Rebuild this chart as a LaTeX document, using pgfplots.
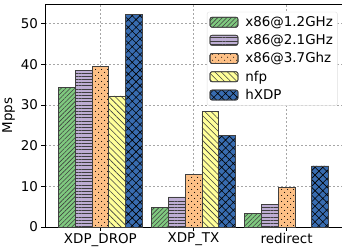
\documentclass[border=0pt]{standalone}
\usepackage{pgfplots}
\pgfplotsset{compat=1.18}
\usepackage{fontspec}
\setmainfont{DejaVu Sans}
\usetikzlibrary{patterns.meta}
\definecolor{cA}{HTML}{7FC97F}
\definecolor{cB}{HTML}{BEAED4}
\definecolor{cC}{HTML}{FDC086}
\definecolor{cD}{HTML}{FFFF99}
\definecolor{cE}{HTML}{386CB0}
\colorlet{edge}{black!75}
\tikzset{
  stA/.style={fill=cA, draw=edge, line width=0.7bp, postaction={pattern={Lines[angle=45,distance=3.2bp,line width=0.6bp]}, pattern color=edge}},
  stB/.style={fill=cB, draw=edge, line width=0.7bp, postaction={pattern={Lines[angle=0,distance=3.2bp,line width=0.6bp]}, pattern color=edge}},
  stC/.style={fill=cC, draw=edge, line width=0.7bp, postaction={pattern={Dots[distance=6bp,radius=0.6bp]}, pattern color=black}, postaction={pattern={Dots[distance=6bp,radius=0.6bp,xshift=3bp,yshift=3bp]}, pattern color=black}},
  stD/.style={fill=cD, draw=edge, line width=0.7bp, postaction={pattern={Lines[angle=-45,distance=4.4bp,line width=0.6bp]}, pattern color=edge}},
  stE/.style={fill=cE, draw=edge, line width=0.7bp, postaction={pattern={Hatch[angle=45,distance=5.5bp,line width=0.6bp]}, pattern color=black}},
}
\begin{document}
\begin{tikzpicture}
\begin{axis}[
  name=ax,
  scale only axis, width=297bp, height=223bp,
  ybar=0pt, bar width=0.18,
  xmin=-0.595, xmax=2.595, ymin=0, ymax=54.8,
  xtick={0,1,2}, xticklabels={XDP\_DROP, XDP\_TX, redirect},
  ytick={0,10,...,50},
  tick align=outside, tick pos=left,
  major tick length=3.5bp,
  major tick style={line width=0.8bp, black},
  grid=major, major grid style={dash pattern=on 2bp off 2bp, gray!70, line width=0.5bp},
  font=\fontsize{13.5}{16}\selectfont,
  ylabel={Mpps},
  ylabel style={yshift=-1bp},
  xticklabel style={yshift=1bp},
  /pgf/number format/assume math mode=true,
  axis line style={line width=0.8bp},
  legend style={at={(0.985,0.965)}, anchor=north east, rounded corners=2bp, draw=gray!25, fill=white, font=\fontsize{13.5}{16}\selectfont, row sep=2.6bp, inner sep=2.5bp,
    /tikz/every odd column/.append style={column sep=5bp}},
  legend cell align=left,
  legend image code/.code={\draw[#1] (0bp,-5bp) rectangle (28bp,5bp);},
]
\addplot[stA] coordinates {(0,34.3) (1,4.9) (2,3.4)};
\addplot[stB] coordinates {(0,38.5) (1,7.4) (2,5.5)};
\addplot[stC] coordinates {(0,39.4) (1,12.9) (2,9.7)};
\addplot[stD] coordinates {(0,32.2) (1,28.3)};
\addplot[stE] coordinates {(0,52.2) (1,22.4) (2,15.0)};
\legend{x86@1.2GHz, x86@2.1GHz, x86@3.7Ghz, nfp, hXDP}
\end{axis}
\pgfresetboundingbox
\path ([shift={(-45bp,-22bp)}]ax.south west) rectangle ([shift={(0bp,4bp)}]ax.north east);
\end{tikzpicture}
\end{document}
